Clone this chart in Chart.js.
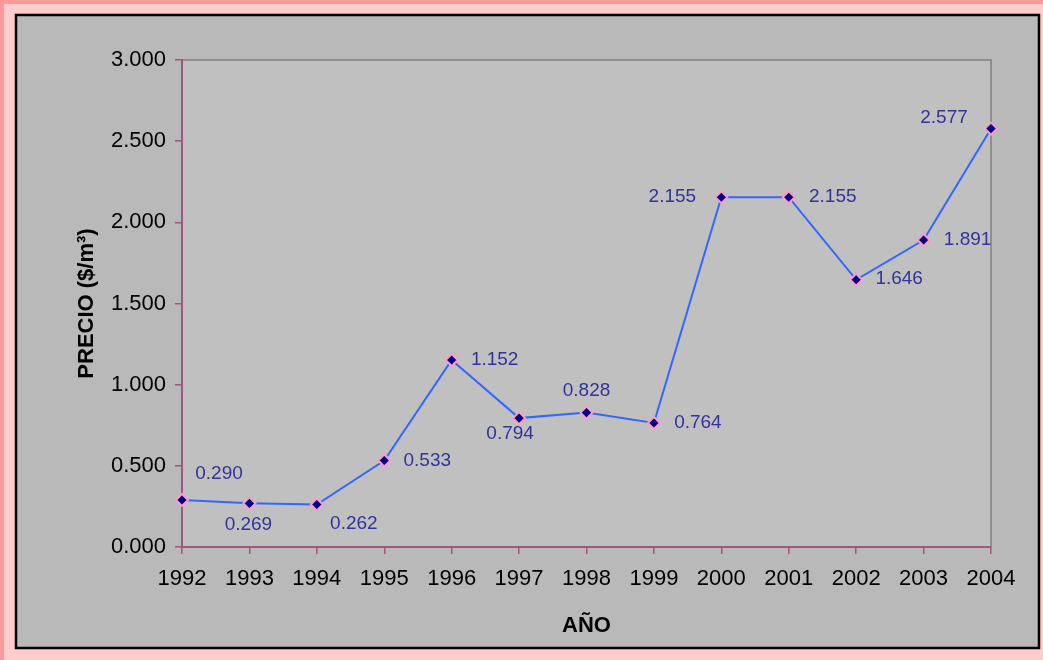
<!DOCTYPE html>
<html>
<head>
<meta charset="utf-8">
<script src="https://cdn.jsdelivr.net/npm/chart.js@4.4.1/dist/chart.umd.min.js"></script>
<style>
  html, body { margin: 0; padding: 0; background: #ffcccc; }
  #wrap { width: 1043px; height: 660px; position: relative; }
</style>
</head>
<body>
<div id="wrap"><canvas id="chart" width="1043" height="660"></canvas></div>
<script>
// datos del gráfico
const anios = ['1992', '1993', '1994', '1995', '1996', '1997', '1998', '1999', '2000', '2001', '2002', '2003', '2004'];
const precios = [0.290, 0.269, 0.262, 0.533, 1.152, 0.794, 0.828, 0.764, 2.155, 2.155, 1.646, 1.891, 2.577];

// desplazamiento de cada etiqueta respecto a su punto (px)
const labelOffsets = [
  [37, -26], [-1, 21], [37, 19], [43, 0], [43, 0], [-9, 16], [0, -22],
  [44, 0], [-49, 0], [44, 0], [43, -1], [44, 0], [-47, -11],
];

const AXIS_COLOR = '#a0567e';
const FONT = '"Liberation Sans", Arial, sans-serif';

const fondo = {
  id: 'fondo',
  beforeDraw(chart) {
    const { ctx, chartArea: a } = chart;
    ctx.save();
    ctx.fillStyle = '#ffcccc';
    ctx.fillRect(0, 0, chart.width, chart.height);
    ctx.fillStyle = '#ff9999';
    ctx.fillRect(0, 0, chart.width, 4);
    ctx.fillRect(0, 0, 4, chart.height);
    ctx.fillStyle = '#b9b9b9';
    ctx.fillRect(16, 15, 1023, 633);
    ctx.strokeStyle = '#000000';
    ctx.lineWidth = 2.5;
    ctx.strokeRect(16, 15, 1023, 633);
    ctx.fillStyle = '#c0c0c0';
    ctx.fillRect(a.left, a.top, a.right - a.left, a.bottom - a.top);
    ctx.strokeStyle = '#808080';
    ctx.lineWidth = 1.5;
    ctx.beginPath();
    ctx.moveTo(a.left, a.top);
    ctx.lineTo(a.right, a.top);
    ctx.lineTo(a.right, a.bottom);
    ctx.stroke();
    ctx.restore();
  },
};

const etiquetas = {
  id: 'etiquetas',
  afterDatasetsDraw(chart) {
    const { ctx } = chart;
    const meta = chart.getDatasetMeta(0);
    ctx.save();
    ctx.font = '19px ' + FONT;
    ctx.fillStyle = '#333399';
    ctx.textAlign = 'center';
    ctx.textBaseline = 'middle';
    meta.data.forEach((pt, i) => {
      const [dx, dy] = labelOffsets[i];
      ctx.fillText(precios[i].toFixed(3), pt.x + dx, pt.y + dy);
    });
    ctx.restore();
  },
};

new Chart(document.getElementById('chart'), {
  type: 'line',
  data: {
    labels: anios,
    datasets: [{
      data: precios,
      borderColor: '#3366ff',
      borderWidth: 2,
      tension: 0,
      pointStyle: 'rectRot',
      pointRadius: 6,
      pointBorderWidth: 2,
      pointBackgroundColor: '#000080',
      pointBorderColor: '#ff99cc',
    }],
  },
  options: {
    responsive: false,
    animation: false,
    layout: { padding: { left: 0, top: 60, right: 52, bottom: 0 } },
    plugins: { legend: { display: false }, tooltip: { enabled: false } },
    scales: {
      x: {
        offset: false,
        afterFit(scale) { scale.height = 113; },
        grid: { drawOnChartArea: false, drawTicks: true, tickLength: 7, color: AXIS_COLOR, lineWidth: 1.5 },
        border: { color: AXIS_COLOR, width: 2 },
        ticks: { color: '#000', padding: 12, maxRotation: 0, autoSkip: false, font: { family: FONT, size: 22 } },
        title: { display: true, text: 'AÑO', color: '#000', padding: { top: 0, bottom: 21 }, font: { family: FONT, size: 22, weight: 'bold' } },
      },
      y: {
        min: 0,
        max: 3,
        afterFit(scale) { scale.width = 182; },
        grid: { drawOnChartArea: false, drawTicks: true, tickLength: 7, color: AXIS_COLOR, lineWidth: 1.5 },
        border: { color: AXIS_COLOR, width: 2 },
        ticks: {
          stepSize: 0.5,
          color: '#000',
          padding: 9,
          font: { family: FONT, size: 22 },
          callback: (v) => Number(v).toFixed(3),
        },
        title: { display: true, text: 'PRECIO ($/m³)', color: '#000', padding: { top: 74, bottom: 0 }, font: { family: FONT, size: 22, weight: 'bold' } },
      },
    },
  },
  plugins: [fondo, etiquetas],
});
</script>
</body>
</html>
